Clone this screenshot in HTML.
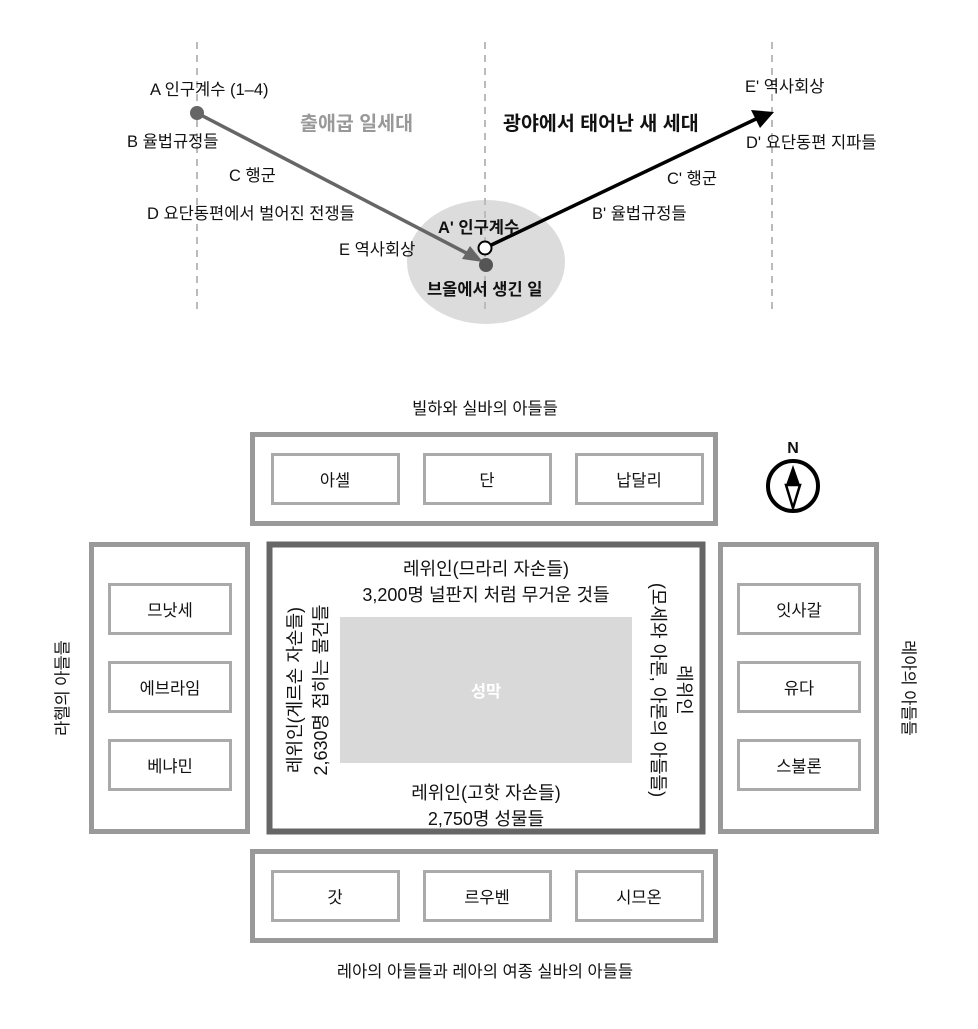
<!DOCTYPE html>
<html><head><meta charset="utf-8"><style>
html,body{margin:0;padding:0;background:#fff}
svg{display:block}
text{font-family:"Liberation Sans","Noto Sans CJK KR",sans-serif;font-size:16.5px;fill:#111}
.b{font-weight:bold}
.t{font-size:19.5px}
.v{font-size:18px}
</style></head><body>
<svg width="978" height="1029" viewBox="0 0 978 1029" xmlns="http://www.w3.org/2000/svg">
<!-- top part -->
<ellipse cx="486" cy="262" rx="79" ry="62" fill="#dcdcdc"/>
<g stroke="#bbb" stroke-width="2" stroke-dasharray="7,6">
<line x1="197" y1="42" x2="197" y2="315"/>
<line x1="485" y1="42" x2="485" y2="315"/>
<line x1="772" y1="42" x2="772" y2="315"/>
</g>
<line x1="197" y1="113" x2="474" y2="257" stroke="#666" stroke-width="3.5"/>
<polygon points="483,262 462,259 470,246" fill="#666"/>
<circle cx="197" cy="113" r="7" fill="#666"/>
<line x1="485" y1="248" x2="758" y2="118" stroke="#000" stroke-width="3.5"/>
<polygon points="774,112 751,110 760,128" fill="#000"/>
<circle cx="486" cy="265" r="7" fill="#555"/>
<circle cx="485" cy="248" r="6.5" fill="#fff" stroke="#000" stroke-width="2"/>
<text x="150" y="95">A 인구계수 (1–4)</text>
<text x="127" y="147">B 율법규정들</text>
<text x="229" y="181">C 행군</text>
<text x="147" y="219">D 요단동편에서 벌어진 전쟁들</text>
<text x="339" y="255">E 역사회상</text>
<text x="300" y="130" class="b t" style="fill:#999">출애굽 일세대</text>
<text x="503" y="130" class="b t">광야에서 태어난 새 세대</text>
<text x="438" y="233" class="b">A' 인구계수</text>
<text x="427" y="295" class="b">브올에서 생긴 일</text>
<text x="745" y="92">E' 역사회상</text>
<text x="746" y="148">D' 요단동편 지파들</text>
<text x="667" y="184">C' 행군</text>
<text x="592" y="219">B' 율법규정들</text>
<!-- bottom -->
<text x="485" y="414" text-anchor="middle">빌하와 실바의 아들들</text>
<text x="485" y="977" text-anchor="middle">레아의 아들들과 레아의 여종 실바의 아들들</text>
<g fill="none" stroke="#999" stroke-width="5">
<rect x="252.5" y="434.5" width="463" height="89"/>
<rect x="252.5" y="851.5" width="463" height="89"/>
<rect x="91.5" y="544.5" width="156" height="287"/>
<rect x="720.5" y="544.5" width="156" height="287"/>
</g>
<g fill="none" stroke="#aaa" stroke-width="3">
<rect x="272.5" y="454.5" width="126" height="49"/>
<rect x="424.5" y="454.5" width="126" height="49"/>
<rect x="576.5" y="454.5" width="126" height="49"/>
<rect x="272.5" y="871.5" width="126" height="49"/>
<rect x="424.5" y="871.5" width="126" height="49"/>
<rect x="576.5" y="871.5" width="126" height="49"/>
<rect x="109.5" y="584.5" width="121" height="49"/>
<rect x="109.5" y="662.5" width="121" height="49"/>
<rect x="109.5" y="740.5" width="121" height="49"/>
<rect x="738.5" y="584.5" width="121" height="49"/>
<rect x="738.5" y="662.5" width="121" height="49"/>
<rect x="738.5" y="740.5" width="121" height="49"/>
</g>
<g text-anchor="middle">
<text x="335" y="486">아셀</text><text x="487" y="486">단</text><text x="639" y="486">납달리</text>
<text x="335" y="903">갓</text><text x="487" y="903">르우벤</text><text x="639" y="903">시므온</text>
<text x="170" y="616">므낫세</text><text x="170" y="694">에브라임</text><text x="170" y="772">베냐민</text>
<text x="799" y="616">잇사갈</text><text x="799" y="694">유다</text><text x="799" y="772">스불론</text>
</g>
<text transform="translate(68,688) rotate(-90)" text-anchor="middle">라헬의 아들들</text>
<text transform="translate(903,688) rotate(90)" text-anchor="middle">레아의 아들들</text>
<rect x="269.5" y="544.5" width="433" height="287" fill="none" stroke="#666" stroke-width="6"/>
<rect x="340" y="617" width="292" height="146" fill="#d9d9d9"/>
<text x="486" y="697" text-anchor="middle" class="b" style="fill:#fff">성막</text>
<text x="486" y="575" text-anchor="middle" class="v">레위인(므라리 자손들)</text>
<text x="486" y="601" text-anchor="middle" class="v">3,200명 널판지 처럼 무거운 것들</text>
<text x="486" y="799" text-anchor="middle" class="v">레위인(고핫 자손들)</text>
<text x="486" y="825" text-anchor="middle" class="v">2,750명 성물들</text>
<text transform="translate(301,690) rotate(-90)" text-anchor="middle" class="v">레위인(게르손 자손들)</text>
<text transform="translate(327,690) rotate(-90)" text-anchor="middle" class="v">2,630명 접히는 물건들</text>
<text transform="translate(678,690) rotate(90)" text-anchor="middle" class="v">레위인</text>
<text transform="translate(652,690) rotate(90)" text-anchor="middle" class="v">(모세와 아론, 아론의 아들들)</text>
<!-- compass -->
<text x="793" y="453" text-anchor="middle" class="b" style="font-size:16px">N</text>
<circle cx="793" cy="486" r="25" fill="#fff" stroke="#000" stroke-width="4"/>
<polygon points="793,465 800,485 786,485" fill="#000"/>
<polygon points="786,485 800,485 793,508" fill="#fff" stroke="#000" stroke-width="2.5"/>
</svg>
</body></html>
